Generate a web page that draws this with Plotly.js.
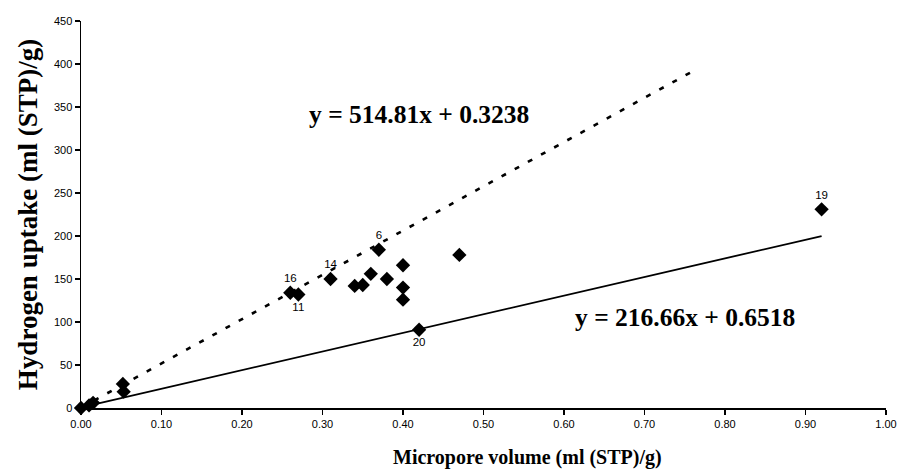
<!DOCTYPE html>
<html>
<head>
<meta charset="utf-8">
<script src="https://cdn.plot.ly/plotly-3.0.1.min.js"></script>
<style>html,body{margin:0;padding:0;background:#fff;}#chart{width:901px;height:471px;}</style>
</head>
<body>
<div id="chart"></div>
<script>
// Micropore volume (ml (STP)/g)
const microVolume = [0.00, 0.010, 0.015, 0.052, 0.053, 0.26, 0.27, 0.31, 0.34, 0.35, 0.36, 0.37, 0.38, 0.40, 0.40, 0.40, 0.42, 0.47, 0.92];
// Hydrogen uptake (ml (STP)/g)
const h2Uptake    = [0, 3, 6, 28, 19, 134, 132, 150, 142, 143, 156, 184, 150, 166, 140, 126, 91, 178, 231];
const pointLabels = ["", "", "", "", "", "16", "11", "14", "", "", "", "6", "", "", "", "", "20", "", "19"];
const labelPos    = ["top center","top center","top center","top center","top center","top center","bottom center","top center","top center","top center","top center","top center","top center","top center","top center","top center","bottom center","top center","top center"];

// Trendlines: slope, intercept, x-extent
const upperSlope = 514.81, upperIntercept = 0.3238, upperXEnd = 0.76;
const lowerSlope = 216.66, lowerIntercept = 0.6518, lowerXEnd = 0.92;
const upperEq = "y = 514.81x + 0.3238";
const lowerEq = "y = 216.66x + 0.6518";
const xTitle = "Micropore volume (ml (STP)/g)";
const yTitle = "Hydrogen uptake (ml (STP)/g)";

const xTicks = [0,0.1,0.2,0.3,0.4,0.5,0.6,0.7,0.8,0.9,1.0];
const xTickText = ["0.00","0.10","0.20","0.30","0.40","0.50","0.60","0.70","0.80","0.90","1.00"];
const yTicks = [0,50,100,150,200,250,300,350,400,450];

const upperX = [0, upperXEnd];
const upperY = upperX.map(x => upperSlope*x + upperIntercept);
const lowerX = [0, lowerXEnd];
const lowerY = lowerX.map(x => lowerSlope*x + lowerIntercept);

const serif = 'Liberation Serif, Times New Roman, serif';
const sans = 'Liberation Sans, Arial, sans-serif';

const traces = [
  {x: upperX, y: upperY, mode: 'lines', line: {color: '#000', width: 2.6, dash: '5px,10px'}, hoverinfo: 'skip'},
  {x: lowerX, y: lowerY, mode: 'lines', line: {color: '#000', width: 1.8}, hoverinfo: 'skip'},
  {x: microVolume, y: h2Uptake, mode: 'markers+text', text: pointLabels, textposition: labelPos,
   textfont: {family: sans, size: 11.5, color: '#000'},
   marker: {symbol: 'diamond', size: 11, color: '#000'}, cliponaxis: false}
];

const layout = {
  width: 901, height: 471,
  margin: {l: 81, r: 15, t: 21, b: 63},
  paper_bgcolor: '#fff', plot_bgcolor: '#fff',
  showlegend: false,
  font: {family: sans, size: 11, color: '#000'},
  xaxis: {
    range: [0, 1], tickvals: xTicks, ticktext: xTickText,
    showgrid: false, zeroline: false, showline: true, linecolor: '#000', linewidth: 1.5,
    ticks: 'outside', ticklen: 5, tickcolor: '#000', tickwidth: 1.5,
    tickfont: {family: sans, size: 11, color: '#000'}
  },
  yaxis: {
    range: [0, 450], tickvals: yTicks,
    showgrid: false, zeroline: false, showline: true, linecolor: '#000', linewidth: 1.5,
    ticks: 'outside', ticklen: 5, tickcolor: '#000', tickwidth: 1.5,
    tickfont: {family: sans, size: 11, color: '#000'},
    title: {text: yTitle, standoff: 8,
            font: {family: serif, size: 27, color: '#000', weight: 'bold'}}
  },
  annotations: [
    {x: 0.42, y: 341, xref: 'x', yref: 'y', text: upperEq, showarrow: false,
     font: {family: serif, size: 25.5, color: '#000', weight: 'bold'}},
    {x: 0.75, y: 105, xref: 'x', yref: 'y', text: lowerEq, showarrow: false,
     font: {family: serif, size: 25.5, color: '#000', weight: 'bold'}},
    {x: 0.555, y: -0.128, xref: 'paper', yref: 'paper', xanchor: 'center', yanchor: 'middle',
     text: xTitle, showarrow: false,
     font: {family: serif, size: 20, color: '#000', weight: 'bold'}}
  ]
};

Plotly.newPlot('chart', traces, layout, {displayModeBar: false, staticPlot: true});
</script>
</body>
</html>
